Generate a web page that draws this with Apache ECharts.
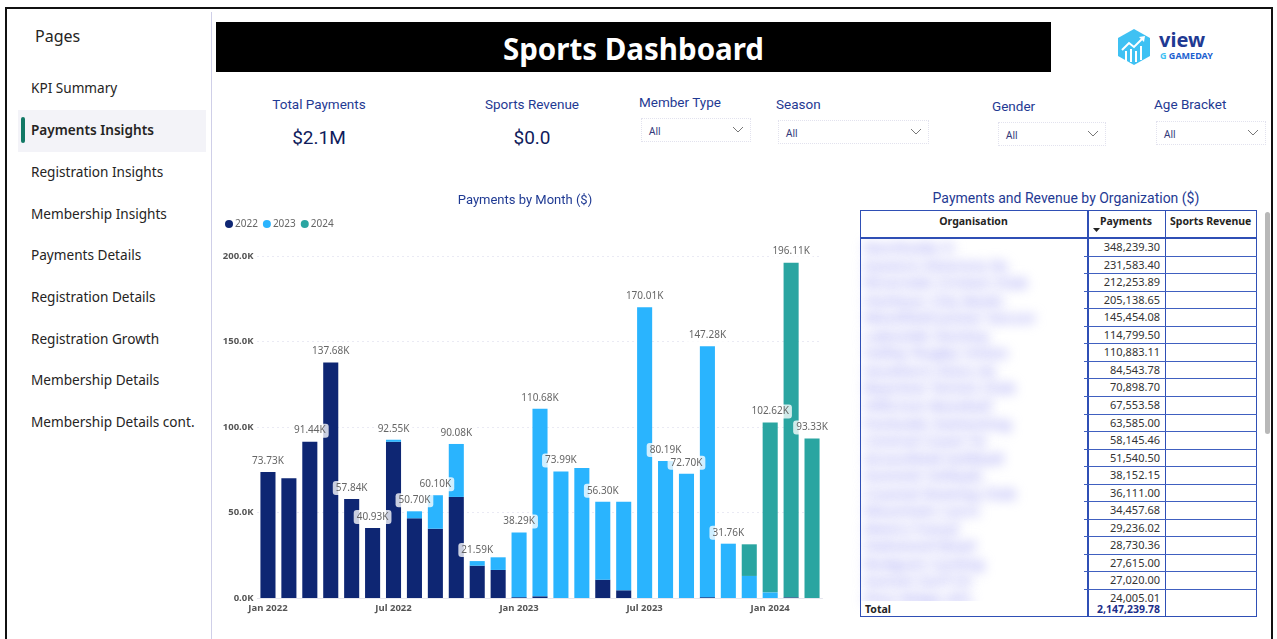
<!DOCTYPE html>
<html>
<head>
<meta charset="utf-8">
<script src="https://cdn.jsdelivr.net/npm/echarts@6/dist/echarts.min.js"></script>
<style>
  html, body { margin: 0; padding: 0; background: #fff; width: 1277px; height: 639px; overflow: hidden; }
  body { position: relative; font-family: 'Segoe UI', 'Noto Sans', sans-serif; }
  .abs { position: absolute; }
  .frame { left: 5px; top: 7px; width: 1268px; height: 660px; border: 2px solid #111; box-sizing: border-box; }
  .divider { left: 211px; top: 12px; width: 1px; height: 627px; background: #cfcfe8; }
  .pages { left: 35px; top: 25px; font-size: 16px; color: #252423; }
  .nav { left: 31px; font-size: 13.6px; color: #252423; line-height: 20px; }
  .active-bg { left: 18px; top: 110px; width: 188px; height: 42px; background: #f3f3f8; }
  .active-bar { left: 21px; top: 117px; width: 4px; height: 26px; background: #117865; border-radius: 2px; }
  .titlebar { left: 216px; top: 22px; width: 835px; height: 50px; background: #000; color: #fff;
              font-family: 'Noto Sans', sans-serif; font-weight: 700; font-size: 29.5px; text-align: center; line-height: 54px; }
  .din { font-family: Roboto, 'Noto Sans', sans-serif; color: #1f3a93; }
  .kpi-t { font-size: 13.5px; width: 200px; text-align: center; }
  .kpi-v { font-size: 19px; width: 200px; text-align: center; color: #101c5c; }
  .slicer-t { font-size: 13.5px; }
  .slicer-b { border: 1px dotted #e2e2ee; box-sizing: border-box; height: 24px; font-size: 10px; color: #333a7a; }
  .slicer-b span { position: absolute; left: 7px; top: 5px; }
  .slicer-b svg { position: absolute; right: 6px; top: 7px; }
  .tbl-title { left: 860px; top: 190px; width: 412px; text-align: center; font-size: 14px; }
  .cell { font-size: 11px; color: #333; text-align: right; width: 70px; line-height: 17px; }
  .hline { height: 1px; background: #4060c0; }
  .vline { width: 2px; background: #2f4fb5; }
  .hdr { font-size: 10.5px; font-weight: 700; color: #252423; }
  .org { font-size: 15px; font-weight: 700; color: #a8a8f4; filter: blur(6px); white-space: nowrap; line-height: 18px; }
</style>
</head>
<body>
<div class="abs frame"></div>
<div class="abs divider"></div>

<div class="abs pages">Pages</div>
<div class="abs active-bg"></div>
<div class="abs active-bar"></div>
<div id="nav"></div>

<div class="abs titlebar">Sports Dashboard</div>

<svg class="abs" style="left:1116px;top:28px" width="36" height="38" viewBox="0 0 36 38">
  <polygon points="18,1 34,10 34,28 18,37 2,28 2,10" fill="#3fc1f3"/>
  <polyline points="6,22 13,15 18,19 27,10" fill="none" stroke="#fff" stroke-width="2"/>
  <polygon points="23,9 29,8 28,14" fill="#fff"/>
  <rect x="9" y="23" width="2" height="10" fill="#fff"/>
  <rect x="14" y="21" width="2" height="13" fill="#fff"/>
  <rect x="19" y="23" width="2" height="11" fill="#fff"/>
  <rect x="24" y="18" width="2" height="14" fill="#fff"/>
</svg>
<div class="abs" style="left:1159px;top:29px;font-family:'Noto Sans',sans-serif;font-weight:700;font-size:20px;color:#1f3a93;line-height:22px">view</div>
<div class="abs" style="left:1160px;top:51px;font-family:'Noto Sans',sans-serif;font-weight:700;font-size:9px;color:#1c5fd0;line-height:10px"><span style="color:#3fc1f3">G</span> GAMEDAY</div>

<div class="abs din kpi-t" style="left:219px;top:96px">Total Payments</div>
<div class="abs din kpi-v" style="left:219px;top:126px">$2.1M</div>
<div class="abs din kpi-t" style="left:432px;top:96px">Sports Revenue</div>
<div class="abs din kpi-v" style="left:432px;top:126px">$0.0</div>

<div id="slicers"></div>

<div id="chart" class="abs" style="left:215px;top:185px;width:620px;height:435px"></div>

<div class="abs din tbl-title">Payments and Revenue by Organization ($)</div>
<div id="table"></div>

<script>
// pages in the side navigation
var pages = ['KPI Summary', 'Payments Insights', 'Registration Insights', 'Membership Insights',
  'Payments Details', 'Registration Details', 'Registration Growth', 'Membership Details', 'Membership Details cont.'];

// slicers
var slicerNames = ['Member Type', 'Season', 'Gender', 'Age Bracket'];

// payments by month, in thousands of dollars, split by year
var months = ['Jan 2022', 'Feb 2022', 'Mar 2022', 'Apr 2022', 'May 2022', 'Jun 2022', 'Jul 2022', 'Aug 2022',
  'Sep 2022', 'Oct 2022', 'Nov 2022', 'Dec 2022', 'Jan 2023', 'Feb 2023', 'Mar 2023', 'Apr 2023', 'May 2023',
  'Jun 2023', 'Jul 2023', 'Aug 2023', 'Sep 2023', 'Oct 2023', 'Nov 2023', 'Dec 2023', 'Jan 2024', 'Feb 2024', 'Mar 2024'];
var pay2022 = [73.73, 70.0, 91.44, 137.68, 57.84, 40.93, 91.35, 46.6, 40.5, 59.1, 18.9, 16.4, 0.5, 1.0,
  0, 0, 10.7, 4.5, 0, 0, 0, 0.5, 0, 0, 0, 0.4, 0];
var pay2023 = [0, 0, 0, 0, 0, 0, 1.2, 4.1, 19.6, 30.98, 2.69, 7.4, 37.79, 109.68, 73.99, 76.0, 45.6, 51.8,
  170.01, 80.19, 72.7, 146.78, 31.76, 12.9, 3.3, 0, 0];
var pay2024 = [0, 0, 0, 0, 0, 0, 0, 0, 0, 0, 0, 0, 0, 0, 0, 0, 0, 0, 0, 0, 0, 0, 0, 18.5, 99.32, 195.71, 93.33];
// months where the total label was hidden in the report
var hiddenLabels = ['Feb 2022', 'Dec 2022', 'Apr 2023', 'Jun 2023', 'Dec 2023'];
var yTicks = [0, 50, 100, 150, 200];

// payments by organisation
var orgNames = ['Northside Football Club', 'Eastern Districts Netball', 'Riverside Cricket Club', 'Harbour City Basketball',
  'Westfield Junior Soccer', 'Lakeside Hockey', 'Valley Rugby Union', 'Southern Stars Athletics', 'Bayview Tennis Club',
  'Hillcrest Baseball', 'Parkside Swimming', 'Central Coast Touch', 'Greenfield Softball', 'Summit Volleyball',
  'Coastal Rowing Club', 'Mountain Lacrosse', 'Metro Futsal', 'Oakwood Bowls', 'Redgum Cycling', 'Sunset Surf Club', 'Pine Ridge AFL'];
var orgPayments = [348239.30, 231583.40, 212253.89, 205138.65, 145454.08, 114799.50, 110883.11, 84543.78, 70898.70,
  67553.58, 63585.00, 58145.46, 51540.50, 38152.15, 36111.00, 34457.68, 29236.02, 28730.36, 27615.00, 27020.00, 24005.01];
var orgTotal = 2147239.78;

var navY = [78, 120, 162, 204, 245, 287, 329, 370, 412];
var navHtml = '';
pages.forEach(function(p, i) {
  navHtml += '<div class="abs nav" style="top:' + navY[i] + 'px;' + (i === 1 ? 'font-weight:600' : '') + '">' + p + '</div>';
});
document.getElementById('nav').innerHTML = navHtml;

var chev = '<svg width="12" height="8" viewBox="0 0 12 8"><polyline points="1,1 6,6 11,1" fill="none" stroke="#777" stroke-width="1"/></svg>';
var sl = [[639, 94, 641, 118, 110], [776, 96, 778, 120, 151], [992, 98, 998, 122, 108], [1154, 96, 1156, 121, 110]];
var slHtml = '';
slicerNames.forEach(function(n, i) {
  var s = sl[i];
  slHtml += '<div class="abs din slicer-t" style="left:' + s[0] + 'px;top:' + s[1] + 'px">' + n + '</div>';
  slHtml += '<div class="abs slicer-b" style="left:' + s[2] + 'px;top:' + s[3] + 'px;width:' + s[4] + 'px"><span>All</span>' + chev + '</div>';
});
document.getElementById('slicers').innerHTML = slHtml;

// table
function fmt(v) {
  return v.toLocaleString('en-US', { minimumFractionDigits: 2, maximumFractionDigits: 2 });
}
var t = '';
var L = 860, R = 1257, C1 = 1087, C2 = 1165, TOP = 210, HB = 237, BOT = 617, RH = 17.55;
orgPayments.forEach(function(v, i) {
  var y = HB + 1 + i * RH;
  var w = 90 + ((i * 53) % 110);
  t += '<div class="abs org" style="left:864px;top:' + Math.round(y) + 'px;width:' + w + 'px;overflow:hidden">' + orgNames[i] + '</div>';
});
// keep the blur out of the header and total rows
t += '<div class="abs" style="left:' + L + 'px;top:' + TOP + 'px;width:' + (R - L) + 'px;height:' + (HB - TOP) + 'px;background:#fff"></div>';
t += '<div class="abs" style="left:861px;top:601px;width:225px;height:16px;background:#fff"></div>';
t += '<div class="abs" style="left:' + L + 'px;top:' + TOP + 'px;width:' + (R - L) + 'px;height:' + (BOT - TOP) + 'px;border:1px solid #2f4fb5;box-sizing:border-box"></div>';
t += '<div class="abs hline" style="left:' + L + 'px;top:' + HB + 'px;width:' + (R - L) + 'px;height:2px;background:#2f4fb5"></div>';
t += '<div class="abs vline" style="left:' + C1 + 'px;top:' + TOP + 'px;height:' + (BOT - TOP) + 'px"></div>';
t += '<div class="abs vline" style="left:' + C2 + 'px;top:' + TOP + 'px;height:' + (BOT - TOP) + 'px;width:1px"></div>';
t += '<div class="abs hdr" style="left:' + L + 'px;top:214px;width:' + (C1 - L) + 'px;text-align:center">Organisation</div>';
t += '<div class="abs hdr" style="left:1100px;top:214px">Payments</div>';
t += '<svg class="abs" style="left:1093px;top:228px" width="8" height="5"><polygon points="0,0 7,0 3.5,4" fill="#222"/></svg>';
t += '<div class="abs hdr" style="left:1170px;top:214px">Sports Revenue</div>';
orgPayments.forEach(function(v, i) {
  var y = HB + 1 + i * RH;
  if (i > 0) t += '<div class="abs hline" style="left:1084px;top:' + Math.round(y) + 'px;width:' + (R - 1084) + 'px"></div>';
  t += '<div class="abs cell" style="left:1090px;top:' + Math.round(y) + 'px">' + fmt(v) + '</div>';
});
t += '<div class="abs hdr" style="left:865px;top:602px;font-size:10.5px">Total</div>';
t += '<div class="abs hdr" style="left:1080px;top:602px;width:80px;text-align:right;color:#1c2f8a">' + fmt(orgTotal) + '</div>';
t += '<div class="abs" style="left:1265px;top:212px;width:5px;height:222px;background:#b8b8b8;border-radius:3px"></div>';
document.getElementById('table').innerHTML = t;

// chart
var totals = months.map(function(m, i) {
  return Math.round((pay2022[i] + pay2023[i] + pay2024[i]) * 100) / 100;
});
var myChart = echarts.init(document.getElementById('chart'));
var option = {
  animation: false,
  textStyle: { fontFamily: "'Segoe UI', 'Noto Sans', sans-serif" },
  title: {
    text: 'Payments by Month ($)', left: 'center', top: 4,
    textStyle: { fontFamily: 'Roboto', fontSize: 13, fontWeight: 'normal', color: '#1f3a93' }
  },
  legend: {
    data: ['2022', '2023', '2024'], left: 5, top: 29, icon: 'circle',
    itemWidth: 8, itemHeight: 8, itemGap: 5,
    textStyle: { fontSize: 10, color: '#666', padding: [0, 0, 0, -3] }
  },
  grid: { left: 42.5, right: 12.5, top: 71, bottom: 22 },
  xAxis: {
    type: 'category', data: months,
    axisLine: { lineStyle: { color: '#e6e6ee' } },
    axisTick: { show: false },
    axisLabel: { interval: 5, fontSize: 9.5, fontWeight: 'bold', color: '#555', margin: 5 }
  },
  yAxis: {
    type: 'value', min: yTicks[0], max: yTicks[yTicks.length - 1], interval: yTicks[1] - yTicks[0],
    axisLabel: { fontSize: 9.5, fontWeight: 'bold', color: '#555', margin: 4,
      formatter: function(v) { return v.toFixed(1) + 'K'; } },
    splitLine: { lineStyle: { type: [1, 4], color: '#d4d4e8' } }
  },
  series: [
    { name: '2022', type: 'bar', stack: 'pay', data: pay2022, itemStyle: { color: '#0e2673' }, barCategoryGap: '28%' },
    { name: '2023', type: 'bar', stack: 'pay', data: pay2023, itemStyle: { color: '#2ab4fe' } },
    { name: '2024', type: 'bar', stack: 'pay', data: pay2024, itemStyle: { color: '#2aa5a1' } },
    {
      name: 'Total', type: 'bar', barGap: '-100%', z: 5,
      data: totals.map(function(v, i) {
        return { value: v, label: { show: hiddenLabels.indexOf(months[i]) < 0 } };
      }),
      itemStyle: { color: 'rgba(0,0,0,0)' },
      label: {
        position: 'top', distance: 4, fontSize: 10, color: '#666',
        backgroundColor: 'rgba(255,255,255,0.78)', borderRadius: 3, padding: [2, 3],
        formatter: function(p) { return p.value.toFixed(2) + 'K'; }
      }
    }
  ]
};
myChart.setOption(option, true);
</script>
</body>
</html>
